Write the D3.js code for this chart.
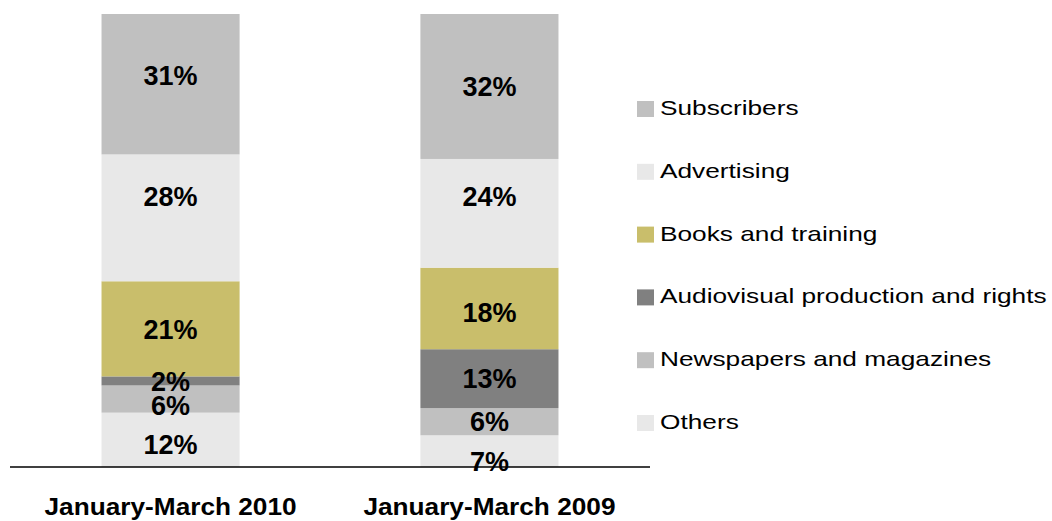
<!DOCTYPE html>
<html>
<head>
<meta charset="utf-8">
<script src="https://cdn.jsdelivr.net/npm/d3@7"></script>
<style>
  body { margin: 0; background: #fff; }
  text { font-family: "Liberation Sans", Arial, sans-serif; }
</style>
</head>
<body>
<div id="chart"></div>
<script>
// Chart data
const periods = ["January-March 2010", "January-March 2009"];
const series = ["Others", "Newspapers and magazines", "Audiovisual production and rights",
                "Books and training", "Advertising", "Subscribers"];
const values2010 = [12, 6, 2, 21, 28, 31];
const values2009 = [7, 6, 13, 18, 24, 32];
const colors = ["#e8e8e8", "#c0c0c0", "#808080", "#c9be6b", "#e8e8e8", "#c0c0c0"];

// Legend is listed top-down in reverse stack order
const legendOrder = series.slice().reverse();

// Small label nudges (px) where the original labels sit off-centre
const labelNudge = {
    "January-March 2010": { "Subscribers": -9, "Advertising": -22, "Others": 4, "Newspapers and magazines": 6 },
    "January-March 2009": { "Advertising": -17, "Books and training": 4, "Others": 10 }
};

const width = 1052, height = 521;
const margin = { top: 14, bottom: 54, left: 10 };
const axisRight = 650;

// Build rows for the stack
const rows = periods.map((p, i) => {
    const vals = i === 0 ? values2010 : values2009;
    const row = { period: p };
    series.forEach((s, j) => row[s] = vals[j]);
    return row;
});

const stacked = d3.stack().keys(series)(rows);

const svg = d3.select("#chart")
    .append("svg")
    .attr("width", width)
    .attr("height", height);

const xScale = d3.scaleBand()
    .domain(periods)
    .range([margin.left, axisRight])
    .paddingInner(0.567)
    .paddingOuter(0.287);

const yScale = d3.scaleLinear()
    .domain([0, 100])
    .range([height - margin.bottom, margin.top]);

const color = d3.scaleOrdinal().domain(series).range(colors);

// Bars
const layers = svg.selectAll("g.layer")
    .data(stacked)
    .enter()
    .append("g")
    .attr("class", "layer")
    .attr("fill", d => color(d.key));

layers.selectAll("rect")
    .data(d => d)
    .enter()
    .append("rect")
    .attr("x", d => xScale(d.data.period))
    .attr("y", d => yScale(d[1]))
    .attr("width", xScale.bandwidth())
    .attr("height", d => yScale(d[0]) - yScale(d[1]));

// Baseline axis
const xAxis = svg.append("g")
    .attr("transform", `translate(0,${yScale(0)})`)
    .call(d3.axisBottom(xScale).tickSize(0).tickFormat(""));
xAxis.select(".domain")
    .attr("d", `M${margin.left},0H${axisRight}`)
    .attr("stroke", "#000")
    .attr("stroke-width", 1.5);

// Value labels
stacked.forEach(layer => {
    layer.forEach(d => {
        const nudge = (labelNudge[d.data.period] || {})[layer.key] || 0;
        svg.append("text")
            .attr("x", xScale(d.data.period) + xScale.bandwidth() / 2)
            .attr("y", (yScale(d[0]) + yScale(d[1])) / 2 + nudge)
            .attr("dy", "0.36em")
            .attr("text-anchor", "middle")
            .style("font-size", "27px")
            .style("font-weight", "bold")
            .style("fill", "#000")
            .text((d[1] - d[0]) + "%");
    });
});

// Category labels
periods.forEach(p => {
    svg.append("text")
        .attr("transform", `translate(${xScale(p) + xScale.bandwidth() / 2},${height - 6}) scale(1.14,1)`)
        .attr("text-anchor", "middle")
        .style("font-size", "23px")
        .style("font-weight", "bold")
        .style("fill", "#000")
        .text(p);
});

// Legend
const legend = svg.append("g")
    .attr("transform", "translate(637,101)");

legendOrder.forEach((s, i) => {
    const row = legend.append("g")
        .attr("transform", `translate(0,${i * 62.8})`);
    row.append("rect")
        .attr("width", 17)
        .attr("height", 16)
        .attr("fill", color(s));
    row.append("text")
        .attr("transform", "translate(23,14) scale(1.25,1)")
        .style("font-size", "21px")
        .style("fill", "#000")
        .text(s);
});
</script>
</body>
</html>
